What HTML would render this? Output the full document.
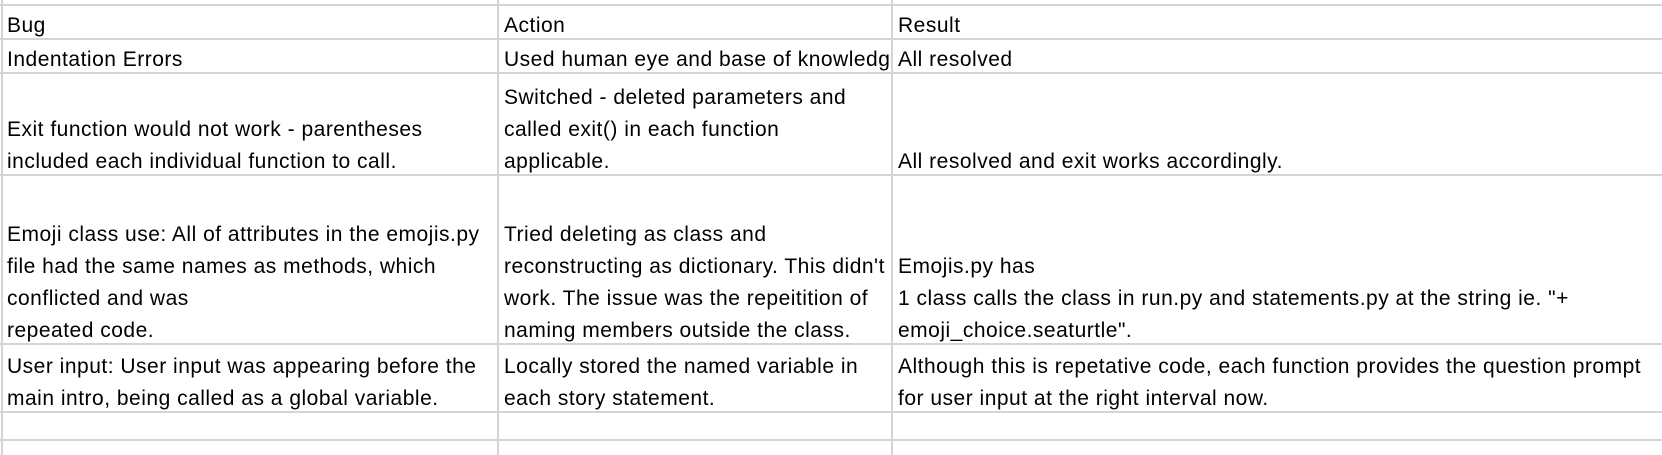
<!DOCTYPE html>
<html><head><meta charset="utf-8"><style>
body{margin:0;width:1662px;height:455px;background:#fff;position:relative;overflow:hidden;font-family:"Liberation Sans",Arial,sans-serif;font-size:21px;letter-spacing:0.5px;color:#000}
.h{position:absolute;left:0;width:1662px;height:2px;background:#d4d4d4}
.v{position:absolute;top:0;height:455px;width:2px;background:#d4d4d4}
.c{position:absolute;line-height:32px;white-space:nowrap;overflow:hidden}
</style></head><body>
<div class="h" style="top:4px"></div>
<div class="h" style="top:38px"></div>
<div class="h" style="top:72px"></div>
<div class="h" style="top:174px"></div>
<div class="h" style="top:343px"></div>
<div class="h" style="top:411px"></div>
<div class="h" style="top:439px"></div>
<div class="v" style="left:1px"></div>
<div class="v" style="left:497px"></div>
<div class="v" style="left:891px"></div>

<div class="c" style="left:7px;bottom:calc(455px - 42px)">Bug</div>
<div class="c" style="left:504px;bottom:calc(455px - 42px)">Action</div>
<div class="c" style="left:898px;bottom:calc(455px - 42px)">Result</div>

<div class="c" style="left:7px;bottom:calc(455px - 76px)">Indentation Errors</div>
<div class="c" style="left:504px;width:387px;bottom:calc(455px - 76px)">Used human eye and base of knowledge</div>
<div class="c" style="left:898px;bottom:calc(455px - 76px)">All resolved</div>

<div class="c" style="left:7px;bottom:calc(455px - 178px)">Exit function would not work - parentheses<br>included each individual function to call.</div>
<div class="c" style="left:504px;bottom:calc(455px - 178px)">Switched - deleted parameters and<br>called exit() in each function<br>applicable.</div>
<div class="c" style="left:898px;bottom:calc(455px - 178px)">All resolved and exit works accordingly.</div>

<div class="c" style="left:7px;bottom:calc(455px - 347px)">Emoji class use: All of attributes in the emojis.py<br>file had the same names as methods, which<br>conflicted and was<br>repeated code.</div>
<div class="c" style="left:504px;bottom:calc(455px - 347px)">Tried deleting as class and<br>reconstructing as dictionary. This didn't<br>work. The issue was the repeitition of<br>naming members outside the class.</div>
<div class="c" style="left:898px;bottom:calc(455px - 347px)">Emojis.py has<br>1 class calls the class in run.py and statements.py at the string ie. "+<br>emoji_choice.seaturtle".</div>

<div class="c" style="left:7px;bottom:calc(455px - 415px)">User input: User input was appearing before the<br>main intro, being called as a global variable.</div>
<div class="c" style="left:504px;bottom:calc(455px - 415px)">Locally stored the named variable in<br>each story statement.</div>
<div class="c" style="left:898px;bottom:calc(455px - 415px)">Although this is repetative code, each function provides the question prompt<br>for user input at the right interval now.</div>
</body></html>
